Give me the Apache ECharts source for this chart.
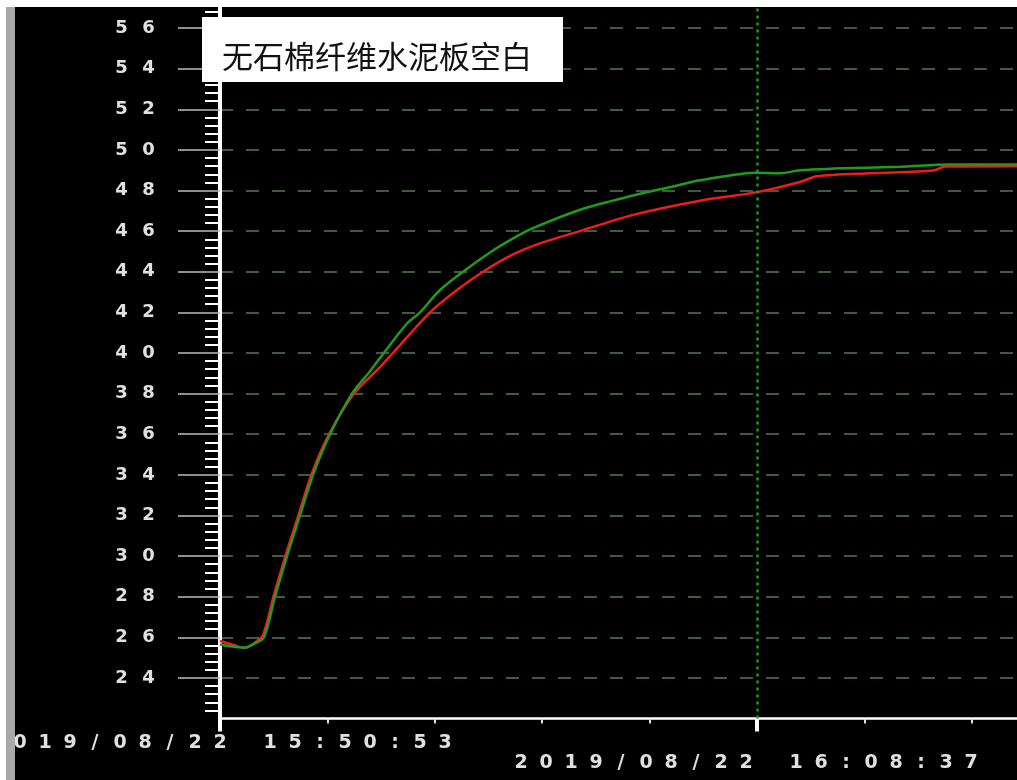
<!DOCTYPE html>
<html><head><meta charset="utf-8">
<script src="https://cdn.jsdelivr.net/npm/echarts@6/dist/echarts.min.js"></script>
<style>html,body{margin:0;padding:0;background:#000}#c{width:1017px;height:780px}</style>
</head><body><div id="c"></div>
<script>
// ---- data ----
const chartTitle = '无石棉纤维水泥板空白';
const xLabelTimes = [0, 1064];               // seconds after 15:50:53
const xLabelTexts = ['2019/08/22 15:50:53', '2019/08/22 16:08:37'];
const markerTime = 1064;                      // dotted cursor line
const xMax = 1579;
const xTickStep = 212.8;
const yMin = 22, yMax = 57, yStep = 2;
const yLabelValues = [24, 26, 28, 30, 32, 34, 36, 38, 40, 42, 44, 46, 48, 50, 52, 54, 56];

const redTime = [0, 23.8, 49.5, 69.3, 85.2, 107.0, 130.8, 156.5, 182.3, 216.0, 265.5, 317.0, 342.8, 416.1, 469.6, 521.1, 580.5, 628.1, 719.2, 818.3, 951.1, 1064, 1149.2, 1182.9, 1287.9, 1412.7, 1436.5, 1579];
const redTemp = [25.82, 25.65, 25.47, 25.75, 26.1, 28.1, 30.1, 32.1, 34.1, 36.0, 38.0, 39.3, 40.0, 42.0, 43.1, 44.0, 44.85, 45.35, 46.05, 46.8, 47.5, 47.92, 48.42, 48.7, 48.85, 48.98, 49.18, 49.2];
const greenTime = [0, 23.8, 49.5, 69.3, 87.2, 109.0, 132.8, 158.5, 184.3, 218.0, 261.5, 297.2, 323.0, 370.5, 396.3, 435.9, 481.5, 535.0, 588.5, 620.2, 719.2, 818.3, 897.6, 951.1, 1064, 1109.6, 1149.2, 1214.6, 1347.3, 1446.4, 1579];
const greenTemp = [25.65, 25.55, 25.5, 25.7, 26.0, 28.0, 30.0, 32.0, 34.0, 36.0, 38.0, 39.1, 39.95, 41.45, 42.0, 43.1, 44.0, 44.95, 45.75, 46.15, 47.1, 47.75, 48.2, 48.5, 48.88, 48.85, 49.0, 49.08, 49.17, 49.28, 49.28];

// ---- helpers ----
function spread(str, cls) {
  return str.split('').map(ch => '{' + cls + '|' + ch + '}').join('');
}
const pairs = (t, v) => t.map((x, i) => [x, v[i]]);

const numStyle = { width: 27, align: 'center', fontFamily: 'DejaVu Sans', fontWeight: 'bold', fontSize: 18, color: '#e0e0e0' };
const dateStyle = { width: 25, align: 'center', fontFamily: 'DejaVu Sans', fontWeight: 'bold', fontSize: 19, color: '#e0e0e0', lineHeight: 20 };

const chart = echarts.init(document.getElementById('c'), null, { renderer: 'canvas' });
chart.setOption({
  animation: false,
  backgroundColor: '#000',
  title: {
    text: chartTitle, left: 202, top: 17,
    backgroundColor: '#ffffff',
    padding: [23, 31, 9, 20],
    textStyle: { fontFamily: 'Noto Sans CJK SC', fontWeight: 'normal', fontSize: 31, lineHeight: 33, color: '#111' }
  },
  grid: { left: 220, right: 0, top: 7.7, bottom: 61.4, containLabel: false, outerBoundsMode: 'none' },
  xAxis: [{
    type: 'value', min: 0, max: xMax, interval: xTickStep, position: 'bottom',
    axisLine: { show: true, onZero: false, lineStyle: { color: '#fff', width: 2.5 } },
    axisTick: { show: true, length: 5, lineStyle: { color: '#ddd', width: 2 } },
    splitLine: { show: false },
    axisLabel: {
      margin: 14, showMinLabel: true, showMaxLabel: false, hideOverlap: false,
      formatter: (v) => Math.abs(v - xLabelTimes[0]) < 1e-6 ? spread(xLabelTexts[0], 'd') : '',
      rich: { d: dateStyle }
    }
  }, {
    type: 'value', min: 0, max: xMax, interval: markerTime, position: 'bottom',
    axisLine: { show: false },
    axisTick: { show: true, length: 13, customValues: [0, markerTime], lineStyle: { color: '#fff', width: 4 } },
    splitLine: { show: false },
    axisLabel: {
      margin: 34, showMinLabel: false, showMaxLabel: false, padding: [0, 22, 0, 0],
      customValues: [markerTime],
      formatter: (v) => Math.abs(v - xLabelTimes[1]) < 1e-6 ? spread(xLabelTexts[1], 'd') : '',
      rich: { d: dateStyle }
    }
  }],
  yAxis: {
    type: 'value', min: yMin, max: yMax, interval: yStep,
    axisLine: { show: true, lineStyle: { color: '#fff', width: 4 } },
    axisTick: { show: true, length: 42, customValues: yLabelValues, lineStyle: { color: '#bdbdbd', width: 1.5 } },
    minorTick: { show: true, splitNumber: 5, length: 15, lineStyle: { color: '#fff', width: 2 } },
    axisLabel: {
      margin: 58,
      formatter: (v) => yLabelValues.indexOf(Math.round(v)) >= 0 && Math.abs(v - Math.round(v)) < 1e-6 ? spread(String(Math.round(v)), 'n') : '',
      rich: { n: numStyle }
    },
    splitLine: { show: true, lineStyle: { color: '#587858', width: 1.5, type: [13, 13] } }
  },
  series: [{
    type: 'line', name: 'red', data: pairs(redTime, redTemp),
    showSymbol: false, smooth: 0.3,
    lineStyle: { color: '#f01c1c', width: 2.5 }, itemStyle: { color: '#f01c1c' }
  }, {
    type: 'line', name: 'green', data: pairs(greenTime, greenTemp),
    showSymbol: false, smooth: 0.3,
    lineStyle: { color: '#1f9c1f', width: 2.5 }, itemStyle: { color: '#1f9c1f' },
    markLine: {
      silent: true, symbol: ['none', 'none'], label: { show: false },
      lineStyle: { color: '#1c9a1c', type: [3, 4], width: 2.5 },
      data: [{ xAxis: markerTime }]
    }
  }],
  graphic: [
    { type: 'rect', z: 100, shape: { x: 0, y: 0, width: 1017, height: 7 }, style: { fill: '#ffffff' } },
    { type: 'rect', z: 100, shape: { x: 0, y: 0, width: 6, height: 780 }, style: { fill: '#ffffff' } },
    { type: 'rect', z: 100, shape: { x: 6, y: 7, width: 9, height: 773 }, style: { fill: '#a9a9a9' } }
  ]
});
</script></body></html>
